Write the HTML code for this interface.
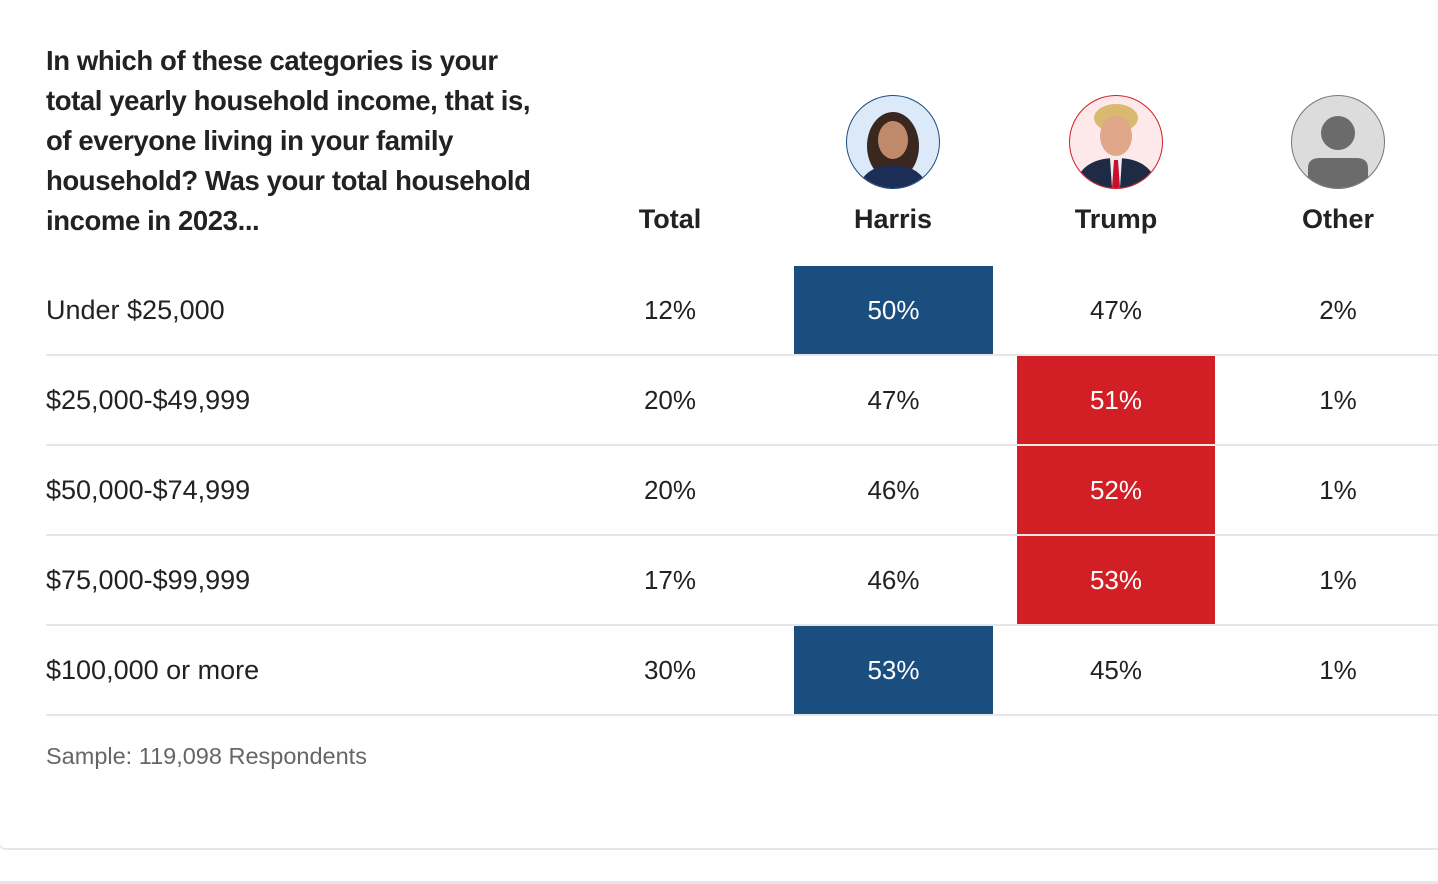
<!DOCTYPE html>
<html><head><meta charset="utf-8">
<style>
body{margin:0;width:1438px;height:884px;background:#fff;position:relative;overflow:hidden;font-family:"Liberation Sans",sans-serif;color:#222}
.abs{position:absolute}
#title{left:46px;top:41px;width:560px;font-weight:bold;font-size:27.5px;line-height:40px;letter-spacing:-0.4px;color:#222;white-space:nowrap}
.hdr{font-weight:bold;font-size:27px;width:200px;margin-left:-100px;text-align:center;top:204px}
.av{width:92px;height:92px;border-radius:50%;top:95px;margin-left:-47px;overflow:hidden}
.cell{font-size:26px;text-align:center;line-height:88px;height:88px}
.lbl{font-size:27px;line-height:88px;height:88px;left:46px}
.sep{left:46px;width:1392px;height:2px;background:#e6e6e6}
</style></head><body>
<div id="title" class="abs">In which of these categories is your<br>total yearly household income, that is,<br>of everyone living in your family<br>household? Was your total household<br>income in 2023...</div>

<div class="abs hdr" style="left:670px">Total</div>
<div class="abs hdr" style="left:893px">Harris</div>
<div class="abs hdr" style="left:1116px">Trump</div>
<div class="abs hdr" style="left:1338px">Other</div>

<div class="abs av" style="left:893px;border:1.5px solid #1a4e7e;background:#dbe9f8">
<svg width="92" height="92"><ellipse cx="46" cy="50" rx="26" ry="34" fill="#3a2820"/><ellipse cx="46" cy="44" rx="15" ry="19" fill="#c08a6a"/><path d="M10 92 Q20 68 46 70 Q72 68 82 92Z" fill="#1c2e55"/></svg></div>
<div class="abs av" style="left:1116px;border:1.5px solid #d21f26;background:#fde8ea">
<svg width="92" height="92"><ellipse cx="46" cy="22" rx="22" ry="14" fill="#d9b870"/><ellipse cx="46" cy="40" rx="16" ry="20" fill="#e0a688"/><path d="M4 92 Q10 62 46 62 Q82 62 88 92Z" fill="#1f2a44"/><path d="M40 62 L52 62 L50 92 L42 92Z" fill="#eee"/><path d="M44 64 L48 64 L50 92 L42 92Z" fill="#c8102e"/></svg></div>
<div class="abs av" style="left:1338px;border:1.5px solid #777;background:#dcdcdc">
<svg width="92" height="92"><circle cx="46" cy="37" r="17" fill="#6b6b6b"/><path d="M16 92 L16 72 Q16 62 28 62 L64 62 Q76 62 76 72 L76 92Z" fill="#6b6b6b"/></svg></div>

<div id="rows"></div>

<div class="abs" style="left:46px;top:743px;font-size:23.5px;color:#666">Sample: 119,098 Respondents</div>
<div class="abs" style="left:-2px;top:700px;width:1460px;height:148px;border-bottom:2px solid #e6e6e6;border-left:2px solid #eee;border-radius:0 0 0 8px"></div>
<div class="abs" style="left:0;top:881px;width:1438px;height:3px;background:#e6e6e6"></div>

<script>
const categories=["Under $25,000","$25,000-$49,999","$50,000-$74,999","$75,000-$99,999","$100,000 or more"];
const totalVals=[12,20,20,17,30];
const harrisVals=[50,47,46,46,53];
const trumpVals=[47,51,52,53,45];
const otherVals=[2,1,1,1,1];
const rows=document.getElementById('rows');
const rowTop=i=>266+i*90;
function mk(cls,style,text){const d=document.createElement('div');d.className='abs '+cls;d.setAttribute('style',style);if(text!==undefined)d.textContent=text;rows.appendChild(d);return d;}
categories.forEach((c,i)=>{
  const y=rowTop(i);
  let e=mk('lbl','top:'+y+'px',c);
  
  
  e=mk('cell','top:'+y+'px;left:570px;width:200px',totalVals[i]+'%');
  
  
  const hWin=harrisVals[i]>trumpVals[i], tWin=trumpVals[i]>harrisVals[i];
  e=mk('cell','top:'+y+'px;left:794px;width:199px;'+(hWin?'background:#1a4e7e;color:#fff':''),harrisVals[i]+'%');
  
  
  e=mk('cell','top:'+y+'px;left:1017px;width:198px;'+(tWin?'background:#d21f26;color:#fff':''),trumpVals[i]+'%');
  
  
  e=mk('cell','top:'+y+'px;left:1238px;width:200px',otherVals[i]+'%');
  
  
  e=mk('sep','top:'+(y+88)+'px');
  
  
});
</script>
</body></html>
